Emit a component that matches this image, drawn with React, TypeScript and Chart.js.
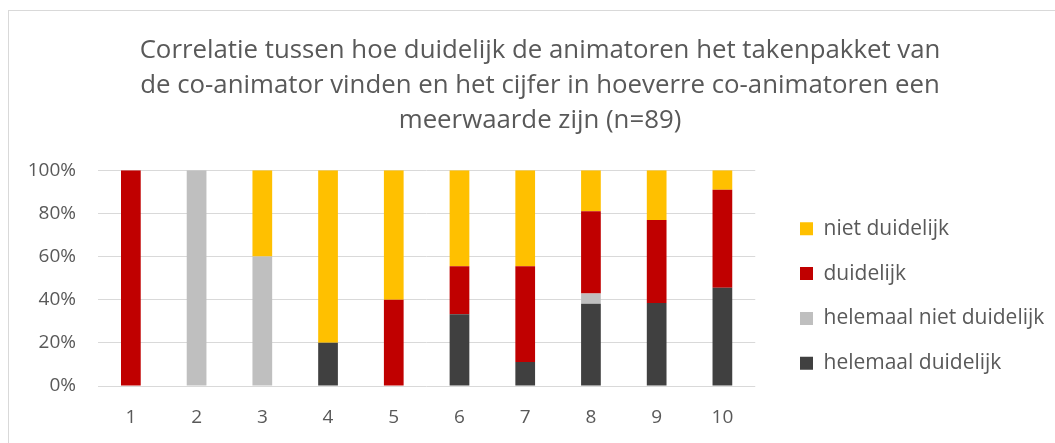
import React, { useEffect, useRef } from "react";
import { Chart, registerables } from "chart.js";

Chart.register(...registerables);

const titleLines = [
  "Correlatie tussen hoe duidelijk de animatoren het takenpakket van",
  "de co-animator vinden en het cijfer in hoeverre co-animatoren een",
  "meerwaarde zijn (n=89)",
];
const categories = ["1", "2", "3", "4", "5", "6", "7", "8", "9", "10"];
const helemaalDuidelijk = [0, 0, 0, 20, 0, 33.3, 11.1, 38.1, 38.5, 45.5];
const helemaalNietDuidelijk = [0, 100, 60, 0, 0, 0, 0, 4.8, 0, 0];
const duidelijk = [100, 0, 0, 0, 40, 22.2, 44.4, 38.1, 38.5, 45.5];
const nietDuidelijk = [0, 0, 40, 80, 60, 44.5, 44.5, 19.0, 23.0, 9.0];
const yTicks = [0, 20, 40, 60, 80, 100];

const FONT = "'Open Sans', 'Noto Sans', sans-serif";
const TEXT = "#595959";
const LEGEND_PAD = 23.8;

const placer = {
  id: "placer",
  afterLayout(chart: any) {
    const lg = chart.legend;
    if (lg) {
      const h = lg.bottom - lg.top;
      lg.left = 800 - LEGEND_PAD;
      lg.right = 1055;
      lg.width = lg.right - lg.left;
      lg.top = 74.5;
      lg.bottom = lg.top + h;
    }
    const t = chart.titleBlock;
    if (t) {
      t.left = 25;
      t.right = 1055;
      t.width = t.right - t.left;
    }
  },
};

export default function App() {
  const ref = useRef<HTMLCanvasElement | null>(null);
  useEffect(() => {
    document.body.style.overflow = "hidden";
    const chart = new Chart(ref.current as HTMLCanvasElement, {
      type: "bar",
      data: {
        labels: categories,
        datasets: [
          { label: "helemaal duidelijk", data: helemaalDuidelijk, backgroundColor: "#404040" },
          { label: "helemaal niet duidelijk", data: helemaalNietDuidelijk, backgroundColor: "#BFBFBF" },
          { label: "duidelijk", data: duidelijk, backgroundColor: "#C00000" },
          { label: "niet duidelijk", data: nietDuidelijk, backgroundColor: "#FFC000" },
        ],
      },
      plugins: [placer],
      options: {
        animation: false,
        responsive: false,
        maintainAspectRatio: false,
        datasets: { bar: { barPercentage: 0.3, categoryPercentage: 1 } },
        layout: { padding: { left: 0, right: 48, top: 0, bottom: 0 } },
        plugins: {
          title: {
            display: true,
            text: titleLines,
            color: TEXT,
            font: { family: FONT, size: 25.8, weight: "normal", lineHeight: 1.36 },
            padding: { top: 33, bottom: 32 },
          },
          legend: {
            position: "right",
            reverse: true,
            labels: {
              boxWidth: 13,
              boxHeight: 13,
              padding: LEGEND_PAD,
              color: TEXT,
              font: { family: FONT, size: 21 },
            },
          },
          tooltip: { enabled: false },
        },
        scales: {
          x: {
            stacked: true,
            grid: { display: false, drawTicks: false },
            border: { display: false },
            afterFit: (axis: any) => {
              axis.height = 57;
            },
            ticks: { color: TEXT, font: { family: FONT, size: 19 }, padding: 20 },
          },
          y: {
            stacked: true,
            min: 0,
            max: 100,
            afterBuildTicks: (axis: any) => {
              axis.ticks = yTicks.map((v) => ({ value: v }));
            },
            afterFit: (axis: any) => {
              axis.width = 98;
            },
            grid: { color: "#D9D9D9", lineWidth: 1, drawTicks: false },
            border: { display: false },
            ticks: {
              color: TEXT,
              font: { family: FONT, size: 19 },
              padding: 22,
              callback: (v: any) => v + "%",
            },
          },
        },
      },
    });
    return () => chart.destroy();
  }, []);
  return (
    <>
      <div
        style={{
          position: "fixed",
          left: 8,
          top: 10,
          right: -2,
          bottom: -2,
          border: "1px solid #D9D9D9",
        }}
      />
      <canvas
        ref={ref}
        width={1055}
        height={443}
        style={{ position: "fixed", left: 0, top: 0, width: 1055, height: 443 }}
      />
    </>
  );
}
